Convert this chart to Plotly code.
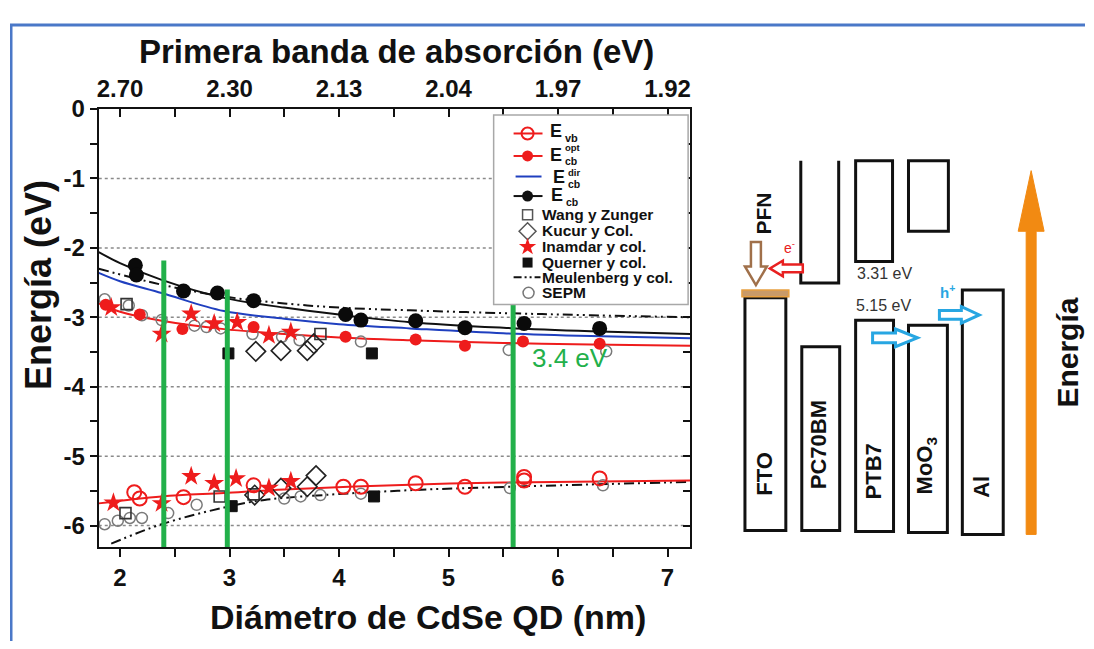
import plotly.graph_objects as go

# The page body keeps its default 8 px margin, so the figure is 16 px smaller than
# the window and every reference-pixel position is shifted by OFF.
PAGE_W, PAGE_H = 1094, 649
OFF = 8
W, H = PAGE_W - 2 * OFF, PAGE_H - 2 * OFF

# ------------------------------------------------------------------ data
# E_cb (black filled circles) and its fit
ecb_x = [2.14, 2.15, 2.58, 2.89, 3.22, 4.06, 4.20, 4.70, 5.15, 5.69, 6.38]
ecb_y = [-2.25, -2.39, -2.62, -2.65, -2.76, -2.96, -3.04, -3.05, -3.15, -3.09, -3.16]
ecb_fit_x = [1.806, 2.0, 2.38, 2.95, 3.5, 4.0, 4.65, 5.5, 6.3, 7.206]
ecb_fit_y = [-2.06, -2.22, -2.46, -2.72, -2.86, -2.96, -3.07, -3.15, -3.20, -3.24]

# E_cb^dir (blue line)
edir_x = [1.806, 2.0, 2.38, 2.95, 3.5, 4.0, 4.65, 5.5, 6.3, 7.206]
edir_y = [-2.36, -2.48, -2.65, -2.91, -3.02, -3.10, -3.16, -3.23, -3.27, -3.30]

# E_cb^opt (red filled circles) and its fit
eopt_x = [1.87, 2.18, 2.57, 3.22, 4.06, 4.70, 5.15, 5.68, 6.38]
eopt_y = [-2.82, -2.96, -3.17, -3.14, -3.28, -3.32, -3.41, -3.35, -3.38]
eopt_fit_x = [1.806, 2.0, 2.38, 2.95, 3.5, 4.0, 4.65, 5.5, 6.3, 7.206]
eopt_fit_y = [-2.80, -2.92, -3.05, -3.17, -3.24, -3.29, -3.33, -3.37, -3.39, -3.41]

# E_vb (red open circles) and its fit
evb_x = [2.13, 2.18, 2.58, 3.22, 4.04, 4.20, 4.70, 5.15, 5.69, 5.69, 6.38]
evb_y = [-5.52, -5.61, -5.59, -5.42, -5.44, -5.44, -5.39, -5.44, -5.30, -5.35, -5.32]
evb_fit_x = [1.806, 2.38, 2.95, 3.5, 4.65, 5.5, 7.206]
evb_fit_y = [-5.68, -5.58, -5.53, -5.48, -5.41, -5.38, -5.35]

# Wang y Zunger (open squares)
wang_x = [2.06, 3.83, 2.05, 2.91, 3.22]
wang_y = [-2.81, -3.24, -5.82, -5.58, -5.55]

# Kucur y Col. (open diamonds)
kucur_x = [3.24, 3.47, 3.71, 3.77, 3.79, 3.71, 3.47, 3.23]
kucur_y = [-3.49, -3.48, -3.48, -3.38, -5.28, -5.44, -5.46, -5.56]

# Inamdar y col. (red stars)
inam_x = [1.92, 2.38, 2.65, 2.86, 3.07, 3.36, 3.56, 1.94, 2.38, 2.65, 2.86, 3.06, 3.36, 3.56]
inam_y = [-2.86, -3.24, -2.95, -3.09, -3.07, -3.26, -3.21, -5.67, -5.68, -5.29, -5.39, -5.32, -5.46, -5.36]

# Querner y col. (filled squares)
quer_x = [2.99, 4.30, 3.02, 4.32]
quer_y = [-3.52, -3.52, -5.72, -5.58]

# Meulenberg y col. (dash-dot lines)
meul_cb_x = [1.806, 2.38, 2.95, 3.5, 4.0, 4.65, 5.5, 6.3, 7.206]
meul_cb_y = [-2.30, -2.53, -2.70, -2.80, -2.86, -2.90, -2.94, -2.97, -3.00]
meul_vb_x = [1.92, 2.38, 2.95, 3.32, 3.86, 4.65, 5.56, 7.206]
meul_vb_y = [-6.26, -5.98, -5.74, -5.63, -5.56, -5.49, -5.44, -5.37]

# SEPM (grey open circles)
sepm_x = [1.86, 2.08, 2.20, 2.38, 2.68, 2.79, 2.92, 3.21, 3.48, 3.64, 4.20, 5.55, 6.44,
          1.86, 1.98, 2.09, 2.20, 2.44, 2.70, 3.50, 3.65, 3.83, 4.20, 5.56, 6.41]
sepm_y = [-2.74, -2.83, -2.97, -3.04, -3.12, -3.14, -3.16, -3.24, -3.28, -3.33, -3.35, -3.47, -3.49,
          -5.98, -5.93, -5.89, -5.89, -5.82, -5.70, -5.61, -5.58, -5.56, -5.54, -5.46, -5.42]

# green marker lines
green_x = [2.40, 2.98, 5.59]
green_top = [-2.18, -2.60, -2.73]

# axes
x_range = [1.806, 7.206]
y_range = [-6.31, 0.0]
bottom_ticks = [2, 3, 4, 5, 6, 7]
top_tick_labels = ["2.70", "2.30", "2.13", "2.04", "1.97", "1.92"]
y_ticks = [0, -1, -2, -3, -4, -5, -6]
grid_vals = [-1, -2, -3, -4, -5, -6]

# energy diagram (schematic, reference pixel units)
boxes = [  # x0, x1, ytop, ybottom
    (745, 786, 290, 528),   # FTO
    (802, 840, 340, 528),   # PC70BM lower
    (856, 893, 150, 253),   # PTB7 upper
    (856, 894, 313, 529),   # PTB7 lower
    (909, 949, 150, 222),   # MoO3 upper
    (909, 948, 318, 530),   # MoO3 lower
    (963, 1004, 282, 532),  # Al
]
layer_labels = ["FTO", "PC70BM", "PTB7", "MoO<sub>3</sub>", "Al"]
layer_label_pos = [(765, 470), (819, 440), (874, 468), (927, 462), (982, 483)]

# ------------------------------------------------------------------ figure
fig = go.Figure()
RED = "#ee1c1c"
BLUE = "#1f3fbf"
GREEN = "#22b04a"
DASH = "10px,4px,2px,4px,2px,4px"
FONT = "Liberation Sans, Arial, sans-serif"

def line(x, y, color, dash="solid", width=2):
    fig.add_trace(go.Scatter(x=x, y=y, mode="lines",
                             line=dict(color=color, width=width, dash=dash, shape="spline"),
                             showlegend=False, hoverinfo="skip"))

def pts(x, y, symbol, size, color, lw=1.5):
    m = dict(symbol=symbol, size=size, color=color, line=dict(width=lw, color=color))
    fig.add_trace(go.Scatter(x=x, y=y, mode="markers", marker=m, showlegend=False))

# fitted curves
line(meul_cb_x, meul_cb_y, "#111", DASH, 2)
line(meul_vb_x, meul_vb_y, "#111", DASH, 2)
line(ecb_fit_x, ecb_fit_y, "#111", "solid", 2)
line(edir_x, edir_y, BLUE, "solid", 2)
line(eopt_fit_x, eopt_fit_y, RED, "solid", 2)
line(evb_fit_x, evb_fit_y, RED, "solid", 2)

# points
pts(sepm_x, sepm_y, "circle-open", 11, "#7a7a7a", 1.5)
pts(wang_x, wang_y, "square-open", 11, "#333", 1.6)
pts(kucur_x, kucur_y, "diamond-open", 15, "#222", 1.6)
pts(quer_x, quer_y, "square", 11, "#111", 1)
pts(inam_x, inam_y, "star", 15, RED, 0)
pts(evb_x, evb_y, "circle-open", 14, RED, 2)
pts(eopt_x, eopt_y, "circle", 12, RED, 0)
pts(ecb_x, ecb_y, "circle", 15, "#0a0a0a", 0)

# green vertical lines
for gx, gt in zip(green_x, green_top):
    fig.add_trace(go.Scatter(x=[gx, gx], y=[y_range[0], gt], mode="lines",
                             line=dict(color=GREEN, width=5), showlegend=False, hoverinfo="skip"))

# dummy trace for the mirrored axes
fig.add_trace(go.Scatter(x=[None], y=[None], xaxis="x2", yaxis="y2", showlegend=False))

# ------------------------------------------------------------------ axes
bold = dict(family=FONT, size=24, color="#111", weight="bold")
xd = [(97 - OFF) / W, (690 - OFF) / W]
yd = [1 - (545 - OFF) / H, 1 - (97 - OFF) / H]
tick_common = dict(tickwidth=2, tickcolor="#111", showline=True, linecolor="#111", linewidth=2,
                   showgrid=False, zeroline=False)

fig.update_layout(
    width=W, height=H, margin=dict(l=0, r=0, t=0, b=0),
    paper_bgcolor="white", plot_bgcolor="rgba(0,0,0,0)", showlegend=False,
    xaxis=dict(domain=xd, range=x_range, anchor="y", tickmode="array", tickvals=bottom_ticks,
               ticktext=[str(v) for v in bottom_ticks], ticks="outside", ticklen=8, tickfont=bold,
               minor=dict(dtick=0.5, tick0=0, ticks="outside", ticklen=8, tickwidth=2, tickcolor="#111"),
               **tick_common),
    yaxis=dict(domain=yd, range=y_range, anchor="x", tickmode="array", tickvals=y_ticks,
               ticktext=[str(v) for v in y_ticks], ticks="outside", ticklen=7, tickfont=bold,
               minor=dict(dtick=0.5, tick0=0, ticks="outside", ticklen=7, tickwidth=2, tickcolor="#111"),
               **tick_common),
    xaxis2=dict(domain=xd, range=x_range, overlaying="x", side="top", anchor="y2", tickmode="array",
                tickvals=bottom_ticks, ticktext=top_tick_labels, ticks="inside", ticklen=8, tickfont=bold,
                minor=dict(dtick=0.5, tick0=0, ticks="inside", ticklen=8, tickwidth=2, tickcolor="#111"),
                **tick_common),
    yaxis2=dict(domain=yd, range=y_range, overlaying="y", side="right", anchor="x2", tickmode="array",
                tickvals=y_ticks, showticklabels=False, ticks="inside", ticklen=7,
                minor=dict(dtick=0.5, tick0=0, ticks="inside", ticklen=7, tickwidth=2, tickcolor="#111"),
                **tick_common),
    # helper axes in reference-pixel units for the legend and the diagram
    xaxis3=dict(domain=[0, 1], range=[OFF, OFF + W], anchor="y3", visible=False),
    yaxis3=dict(domain=[0, 1], range=[OFF + H, OFF], anchor="x3", visible=False),
)

shapes = []
annots = []
# dotted grid
for gv in grid_vals:
    shapes.append(dict(type="line", xref="x domain", yref="y", x0=0, x1=0.99, y0=gv, y1=gv,
                       line=dict(color="#8a8a8a", width=1.5, dash="dot"), layer="below"))

def T(x, y, text, size=16, color="#111", bold_=True, xa="center", ya="middle", angle=0):
    annots.append(dict(xref="x3", yref="y3", x=x, y=y, text=text, showarrow=False,
                       xanchor=xa, yanchor=ya, textangle=angle,
                       font=dict(family=FONT, size=size, color=color,
                                 weight="bold" if bold_ else "normal")))

# titles
T(396, 38, "Primera banda de absorción (eV)", 33)
T(427, 616, "Diámetro de CdSe QD (nm)", 34)
T(36, 277, "Energía (eV)", 36, angle=-90)
T(570, 352, "3.4 eV", 26, GREEN, bold_=False)

# legend box
shapes.append(dict(type="rect", xref="x3", yref="y3", x0=493, x1=688, y0=103, y1=297,
                   line=dict(color="#a8a8a8", width=1.5), fillcolor="white", layer="below"))

def leg_sym(xs, ys, mode, color, symbol="circle", size=10, dash="solid", mlw=1.5):
    fig.add_trace(go.Scatter(x=xs, y=ys, xaxis="x3", yaxis="y3", mode=mode,
                             line=dict(color=color, width=2, dash=dash),
                             marker=dict(symbol=symbol, size=size, color=color,
                                         line=dict(width=mlw, color=color)),
                             showlegend=False, hoverinfo="skip"))

leg_sym([513, 542], [122, 122], "lines", RED)
leg_sym([527], [122], "markers", RED, "circle-open", 12, mlw=2)
leg_sym([513, 542], [145, 145], "lines", RED)
leg_sym([527], [145], "markers", RED, "circle", 11, mlw=0)
leg_sym([515, 541], [166, 166], "lines", BLUE)
leg_sym([513, 542], [186, 186], "lines", "#111")
leg_sym([527], [186], "markers", "#111", "circle", 11, mlw=0)
leg_sym([527], [205], "markers", "#555", "square-open", 10)
leg_sym([527], [222], "markers", "#555", "diamond-open", 13)
leg_sym([527], [238], "markers", RED, "star", 13, mlw=0)
leg_sym([527], [254], "markers", "#111", "square", 10, mlw=0)
leg_sym([513, 540], [269, 269], "lines", "#111", dash="8px,3px,2px,3px,2px,3px")
leg_sym([528], [285], "markers", "#777", "circle-open", 11)

T(556, 119, "E", 18)
T(563, 127, "vb", 11, xa="left")
T(556, 144, "E", 18)
T(563, 136, "opt", 9.5, xa="left")
T(563, 150.5, "cb", 10.5, xa="left")
T(559, 166, "E", 18)
T(566, 162, "dir", 9.5, xa="left")
T(566, 173.5, "cb", 10.5, xa="left")
T(557, 185, "E", 18)
T(564, 192, "cb", 10.5, xa="left")
legend_names = ["Wang y Zunger", "Kucur y Col.", "Inamdar y col.", "Querner y col.",
                "Meulenberg y col.", "SEPM"]
legend_ys = [204.5, 221, 238, 254, 269.5, 285]
for nm, ly in zip(legend_names, legend_ys):
    T(539, ly, nm, 15.5, xa="left")

# ---------------- energy diagram
for (x0, x1, y0, y1) in boxes:
    shapes.append(dict(type="rect", xref="x3", yref="y3", x0=x0, x1=x1, y0=y0, y1=y1,
                       line=dict(color="#111", width=3)))
# PC70BM upper (open top)
shapes.append(dict(type="path", xref="x3", yref="y3", path="M 801,150 L 801,275 L 839,275 L 839,150",
                   line=dict(color="#111", width=3)))
# PFN layer
shapes.append(dict(type="rect", xref="x3", yref="y3", x0=742, x1=789, y0=282, y1=289,
                   line=dict(color="#e8a040", width=1.5), fillcolor="#c99a68"))
# hollow arrows
shapes.append(dict(type="path", xref="x3", yref="y3",
                   path="M 751,233 L 761,233 L 761,258 L 767,258 L 756,277 L 745,258 L 751,258 Z",
                   line=dict(color="#a0704a", width=2.5), fillcolor="white"))
shapes.append(dict(type="path", xref="x3", yref="y3",
                   path="M 803,256 L 783,256 L 783,252 L 770,260 L 783,268 L 783,264 L 803,264 Z",
                   line=dict(color="#e82020", width=2.5), fillcolor="white"))
shapes.append(dict(type="path", xref="x3", yref="y3",
                   path="M 873,326 L 896,326 L 896,322 L 918,331 L 896,340 L 896,336 L 873,336 Z",
                   line=dict(color="#27a6e2", width=3), fillcolor="white"))
shapes.append(dict(type="path", xref="x3", yref="y3",
                   path="M 940,303 L 962,303 L 962,299 L 980,307.5 L 962,316 L 962,312 L 940,312 Z",
                   line=dict(color="#27a6e2", width=3), fillcolor="white"))
# orange energy arrow
shapes.append(dict(type="path", xref="x3", yref="y3",
                   path="M 1027,532 L 1027,222 L 1019,222 L 1032,160 L 1045,222 L 1037,222 L 1037,532 Z",
                   line=dict(color="#f28a12", width=1), fillcolor="#f28a12"))

for lab, (lx, ly) in zip(layer_labels, layer_label_pos):
    T(lx, ly, lab, 22, angle=-90)
T(764, 204, "PFN", 21, angle=-90)
T(790, 238, "e<sup>-</sup>", 14, "#e82020", bold_=False)
T(948, 284, "h<sup>+</sup>", 15, "#27a6e2")
T(885, 265, "3.31 eV", 16, "#333", bold_=False)
T(884, 298, "5.15 eV", 16, "#333", bold_=False)
T(1068, 346, "Energía", 30, angle=-90)

# blue outer frame
shapes.append(dict(type="rect", xref="x3", yref="y3", x0=9, x1=1120, y0=11, y1=700,
                   line=dict(color="#4a78c8", width=3)))

fig.update_layout(shapes=shapes, annotations=annots)
fig.write_html("out.html", config={"displayModeBar": False})
